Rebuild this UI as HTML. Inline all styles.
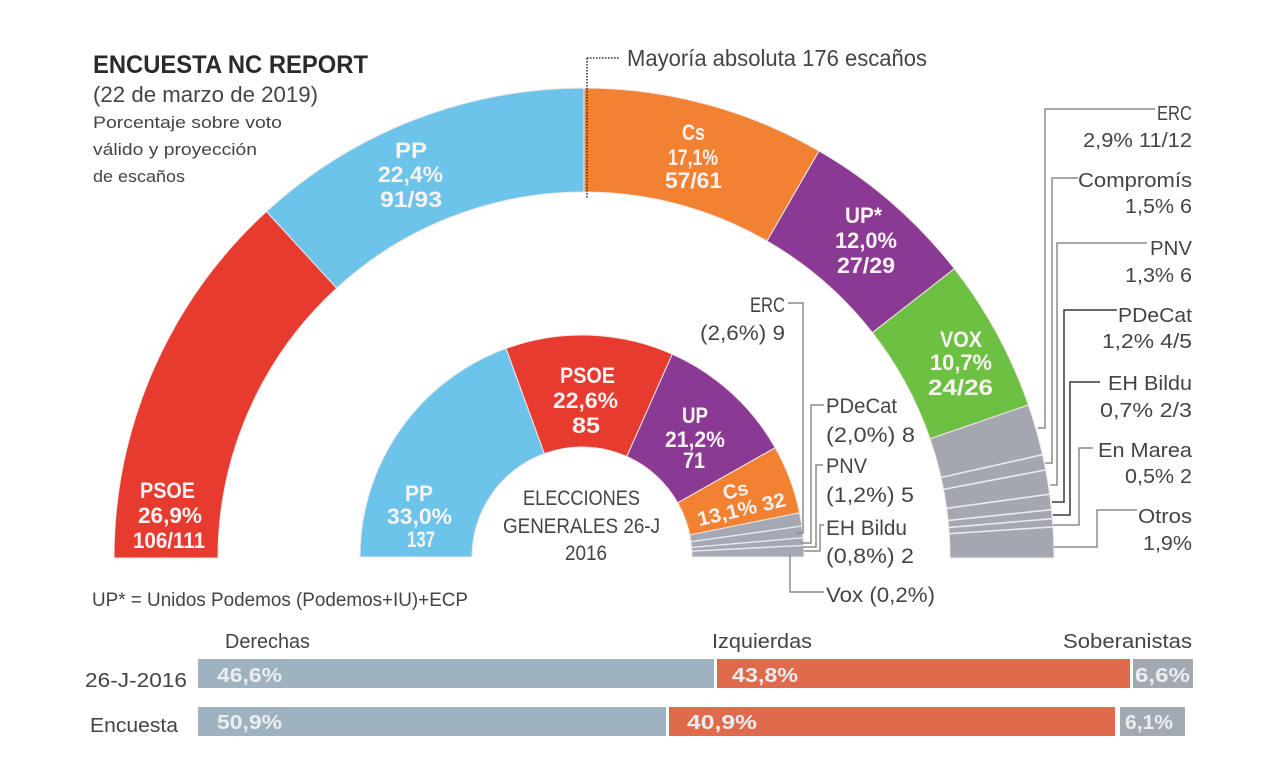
<!DOCTYPE html>
<html><head><meta charset="utf-8"><style>
html,body{margin:0;padding:0;background:#fff;}
svg{display:block;}
text{font-family:"Liberation Sans Narrow","Liberation Sans",sans-serif;}
.w{fill:#fbf3f3;font-weight:bold;font-size:22px;}
.g{fill:#444;font-size:20px;}
.b{fill:#e9eef2;font-weight:bold;font-size:20px;}
</style></head><body>
<svg width="1266" height="771" viewBox="0 0 1266 771" xmlns="http://www.w3.org/2000/svg">
<rect width="1266" height="771" fill="#fff"/>

<!-- Outer ring -->
<g stroke="#f4e8e8" stroke-width="1">
<path d="M114,558 A470,470 0 0 1 266.47,211.48 L336.73,288.16 A366,366 0 0 0 218,558 Z" fill="#e63b2e"/>
<path d="M266.47,211.48 A470,470 0 0 1 584,88 L584,192 A366,366 0 0 0 336.73,288.16 Z" fill="#6cc4ea"/>
<path d="M584,88 A470,470 0 0 1 819,150.97 L767,241.04 A366,366 0 0 0 584,192 Z" fill="#f28232"/>
<path d="M819,150.97 A470,470 0 0 1 954.37,268.64 L872.41,332.67 A366,366 0 0 0 767,241.04 Z" fill="#8b3a93"/>
<path d="M954.37,268.64 A470,470 0 0 1 1028.39,404.98 L930.06,438.84 A366,366 0 0 0 872.41,332.67 Z" fill="#6cc042"/>
<path d="M1028.39,404.98 A470,470 0 0 1 1054,558 L950,558 A366,366 0 0 0 930.06,438.84 Z" fill="#a4a7b0"/>
</g>
<g stroke="#e8eaee" stroke-width="1.6">
<line x1="941" y1="477.5" x2="1042.5" y2="454.7"/>
<line x1="943.5" y1="489.4" x2="1045.7" y2="469.9"/>
<line x1="946.6" y1="508.3" x2="1049.6" y2="494.2"/>
<line x1="948.1" y1="520.4" x2="1051.5" y2="509.7"/>
<line x1="948.7" y1="527.4" x2="1052.4" y2="518.7"/>
<line x1="949.2" y1="533.7" x2="1053" y2="526.9"/>
</g>

<!-- Inner ring -->
<g stroke="#f4e8e8" stroke-width="1">
<path d="M360,557 A222,222 0 0 1 506.07,348.39 L544.38,453.63 A110,110 0 0 0 472,557 Z" fill="#6cc4ea"/>
<path d="M506.07,348.39 A222,222 0 0 1 672.3,354.19 L626.74,456.51 A110,110 0 0 0 544.38,453.63 Z" fill="#e63b2e"/>
<path d="M672.3,354.19 A222,222 0 0 1 775.22,447.68 L677.74,502.83 A110,110 0 0 0 626.74,456.51 Z" fill="#8b3a93"/>
<path d="M775.22,447.68 A222,222 0 0 1 799.54,512.74 L689.79,535.07 A110,110 0 0 0 677.74,502.83 Z" fill="#f28232"/>
<path d="M799.54,512.74 A222,222 0 0 1 804,557 L692,557 A110,110 0 0 0 689.79,535.07 Z" fill="#a4a9b3"/>
</g>
<g stroke="#e8eaee" stroke-width="1.4">
<line x1="690.9" y1="541.7" x2="801.8" y2="526.1"/>
<line x1="691.6" y1="547.4" x2="803.2" y2="537.7"/>
<line x1="691.8" y1="551.2" x2="803.7" y2="545.4"/>
</g>

<!-- Majority line -->
<g stroke="#333" stroke-width="1.6" stroke-dasharray="1.5,1.5" fill="none">
<line x1="587" y1="58" x2="587" y2="198"/>
<line x1="587" y1="58" x2="620" y2="58"/>
</g>
<text x="627" y="66" class="g" textLength="300" lengthAdjust="spacingAndGlyphs" style="font-size:23px">Mayoría absoluta 176 escaños</text>

<!-- Header -->
<text x="93" y="73" textLength="275" lengthAdjust="spacingAndGlyphs" style="font-size:25px;font-weight:bold;fill:#2a2a2a">ENCUESTA NC REPORT</text>
<text x="93" y="102" textLength="225" lengthAdjust="spacingAndGlyphs" style="font-size:22px;fill:#444">(22 de marzo de 2019)</text>
<text x="93" y="128" textLength="189" lengthAdjust="spacingAndGlyphs" style="font-size:17px;fill:#444">Porcentaje sobre voto</text>
<text x="93" y="155" textLength="164" lengthAdjust="spacingAndGlyphs" style="font-size:17px;fill:#444">válido y proyección</text>
<text x="93" y="182" textLength="92" lengthAdjust="spacingAndGlyphs" style="font-size:17px;fill:#444">de escaños</text>

<!-- Outer labels -->
<text class="w" x="140" y="498" textLength="55" lengthAdjust="spacingAndGlyphs">PSOE</text>
<text class="w" x="138" y="523" textLength="64" lengthAdjust="spacingAndGlyphs">26,9%</text>
<text class="w" x="133" y="548" textLength="72" lengthAdjust="spacingAndGlyphs">106/111</text>

<text class="w" x="395" y="158" textLength="32" lengthAdjust="spacingAndGlyphs">PP</text>
<text class="w" x="378" y="182" textLength="65" lengthAdjust="spacingAndGlyphs">22,4%</text>
<text class="w" x="380" y="207" textLength="62" lengthAdjust="spacingAndGlyphs">91/93</text>

<text class="w" x="682" y="140" textLength="23" lengthAdjust="spacingAndGlyphs">Cs</text>
<text class="w" x="668" y="165" textLength="50" lengthAdjust="spacingAndGlyphs">17,1%</text>
<text class="w" x="665" y="188" textLength="57" lengthAdjust="spacingAndGlyphs">57/61</text>

<text class="w" x="845" y="223" textLength="37" lengthAdjust="spacingAndGlyphs">UP*</text>
<text class="w" x="835" y="248" textLength="62" lengthAdjust="spacingAndGlyphs">12,0%</text>
<text class="w" x="837" y="273" textLength="58" lengthAdjust="spacingAndGlyphs">27/29</text>

<text class="w" x="940" y="347" textLength="42" lengthAdjust="spacingAndGlyphs">VOX</text>
<text class="w" x="930" y="370" textLength="62" lengthAdjust="spacingAndGlyphs">10,7%</text>
<text class="w" x="928" y="395" textLength="65" lengthAdjust="spacingAndGlyphs">24/26</text>

<!-- Inner labels -->
<text class="w" x="405" y="501" textLength="28" lengthAdjust="spacingAndGlyphs">PP</text>
<text class="w" x="387" y="524" textLength="65" lengthAdjust="spacingAndGlyphs">33,0%</text>
<text class="w" x="407" y="547" textLength="28" lengthAdjust="spacingAndGlyphs">137</text>

<text class="w" x="560" y="383" textLength="55" lengthAdjust="spacingAndGlyphs">PSOE</text>
<text class="w" x="553" y="408" textLength="65" lengthAdjust="spacingAndGlyphs">22,6%</text>
<text class="w" x="572" y="433" textLength="28" lengthAdjust="spacingAndGlyphs">85</text>

<text class="w" x="682" y="423" textLength="26" lengthAdjust="spacingAndGlyphs">UP</text>
<text class="w" x="665" y="447" textLength="60" lengthAdjust="spacingAndGlyphs">21,2%</text>
<text class="w" x="683" y="468" textLength="22" lengthAdjust="spacingAndGlyphs">71</text>

<text class="w" x="737" y="497" text-anchor="middle" transform="rotate(-13 737 497)" style="font-size:20px">Cs</text>
<text class="w" x="743" y="516" text-anchor="middle" textLength="90" lengthAdjust="spacingAndGlyphs" transform="rotate(-13 743 516)" style="font-size:20px">13,1% 32</text>

<!-- center text -->
<text class="g" x="523" y="505" textLength="117" lengthAdjust="spacingAndGlyphs" style="font-size:21px">ELECCIONES</text>
<text class="g" x="503" y="533" textLength="157" lengthAdjust="spacingAndGlyphs" style="font-size:21px">GENERALES 26-J</text>
<text class="g" x="565" y="560" textLength="42" lengthAdjust="spacingAndGlyphs" style="font-size:21px">2016</text>

<!-- inner leader lines -->
<g stroke="#8c8c8c" stroke-width="1.5" fill="none">
<polyline points="788,303 803,303 803,533 796,533"/>
<polyline points="824,405 811,405 811,543 801,543"/>
<polyline points="823,465 816,465 816,547 803,547"/>
<polyline points="824,525 820,525 820,551 804,551"/>
<polyline points="790,556 790,592 824,592"/>
</g>
<text class="g" x="750" y="312" textLength="35" lengthAdjust="spacingAndGlyphs" style="font-size:21px">ERC</text>
<text class="g" x="700" y="340" textLength="85" lengthAdjust="spacingAndGlyphs" style="font-size:21px">(2,6%) 9</text>
<text class="g" x="826" y="413" textLength="71" lengthAdjust="spacingAndGlyphs" style="font-size:21px">PDeCat</text>
<text class="g" x="826" y="442" textLength="89" lengthAdjust="spacingAndGlyphs" style="font-size:21px">(2,0%) 8</text>
<text class="g" x="826" y="473" textLength="41" lengthAdjust="spacingAndGlyphs" style="font-size:21px">PNV</text>
<text class="g" x="826" y="502" textLength="88" lengthAdjust="spacingAndGlyphs" style="font-size:21px">(1,2%) 5</text>
<text class="g" x="826" y="535" textLength="81" lengthAdjust="spacingAndGlyphs" style="font-size:21px">EH Bildu</text>
<text class="g" x="826" y="563" textLength="88" lengthAdjust="spacingAndGlyphs" style="font-size:21px">(0,8%) 2</text>
<text class="g" x="826" y="602" textLength="109" lengthAdjust="spacingAndGlyphs" style="font-size:21px">Vox (0,2%)</text>

<!-- right leader lines -->
<g stroke="#8c8c8c" stroke-width="1.5" fill="none">
<polyline points="1155,109 1045,109 1045,428 1038,428"/>
<polyline points="1078,178 1052,178 1052,463 1045,463"/>
<polyline points="1147,243 1057,243 1057,485 1050,485"/>
<polyline points="1093,448 1079,448 1079,525 1053,525"/>
<polyline points="1137,510 1097,510 1097,547 1054,547"/>
</g>
<g stroke="#3a3a3a" stroke-width="1.5" fill="none">
<polyline points="1117,310 1064,310 1064,502 1052,502"/>
<polyline points="1100,382 1070,382 1070,515 1053,515"/>
</g>
<text class="g" x="1157" y="120" textLength="35" lengthAdjust="spacingAndGlyphs">ERC</text>
<text class="g" x="1083" y="147" textLength="109" lengthAdjust="spacingAndGlyphs">2,9% 11/12</text>
<text class="g" x="1078" y="187" textLength="114" lengthAdjust="spacingAndGlyphs">Compromís</text>
<text class="g" x="1125" y="213" textLength="67" lengthAdjust="spacingAndGlyphs">1,5% 6</text>
<text class="g" x="1150" y="255" textLength="42" lengthAdjust="spacingAndGlyphs">PNV</text>
<text class="g" x="1125" y="282" textLength="67" lengthAdjust="spacingAndGlyphs">1,3% 6</text>
<text class="g" x="1118" y="322" textLength="74" lengthAdjust="spacingAndGlyphs">PDeCat</text>
<text class="g" x="1102" y="348" textLength="90" lengthAdjust="spacingAndGlyphs">1,2% 4/5</text>
<text class="g" x="1108" y="390" textLength="84" lengthAdjust="spacingAndGlyphs">EH Bildu</text>
<text class="g" x="1100" y="417" textLength="92" lengthAdjust="spacingAndGlyphs">0,7% 2/3</text>
<text class="g" x="1098" y="457" textLength="94" lengthAdjust="spacingAndGlyphs">En Marea</text>
<text class="g" x="1125" y="483" textLength="67" lengthAdjust="spacingAndGlyphs">0,5% 2</text>
<text class="g" x="1138" y="523" textLength="54" lengthAdjust="spacingAndGlyphs">Otros</text>
<text class="g" x="1143" y="550" textLength="49" lengthAdjust="spacingAndGlyphs">1,9%</text>

<!-- footnote -->
<text class="g" x="92" y="606" textLength="376" lengthAdjust="spacingAndGlyphs" style="font-size:19px">UP* = Unidos Podemos (Podemos+IU)+ECP</text>

<!-- bottom bars -->
<text class="g" x="225" y="648" textLength="85" lengthAdjust="spacingAndGlyphs">Derechas</text>
<text class="g" x="712" y="648" textLength="100" lengthAdjust="spacingAndGlyphs">Izquierdas</text>
<text class="g" x="1063" y="648" textLength="129" lengthAdjust="spacingAndGlyphs">Soberanistas</text>
<text class="g" x="85" y="687" textLength="102" lengthAdjust="spacingAndGlyphs">26-J-2016</text>
<text class="g" x="90" y="732" textLength="88" lengthAdjust="spacingAndGlyphs">Encuesta</text>

<rect x="198" y="659" width="516" height="29" fill="#9fb2c0"/>
<rect x="717" y="659" width="413" height="29" fill="#e06a4c"/>
<rect x="1133" y="659" width="60" height="29" fill="#a3a9b0"/>
<rect x="198" y="707" width="468" height="29" fill="#9fb2c0"/>
<rect x="669" y="707" width="446" height="29" fill="#e06a4c"/>
<rect x="1120" y="707" width="65" height="29" fill="#a3a9b0"/>

<text class="b" x="217" y="682" textLength="65" lengthAdjust="spacingAndGlyphs">46,6%</text>
<text class="b" x="732" y="682" textLength="66" lengthAdjust="spacingAndGlyphs">43,8%</text>
<text class="b" x="1135" y="682" textLength="55" lengthAdjust="spacingAndGlyphs">6,6%</text>
<text class="b" x="217" y="729" textLength="65" lengthAdjust="spacingAndGlyphs">50,9%</text>
<text class="b" x="687" y="729" textLength="70" lengthAdjust="spacingAndGlyphs">40,9%</text>
<text class="b" x="1125" y="729" textLength="48" lengthAdjust="spacingAndGlyphs">6,1%</text>
</svg>
</body></html>
